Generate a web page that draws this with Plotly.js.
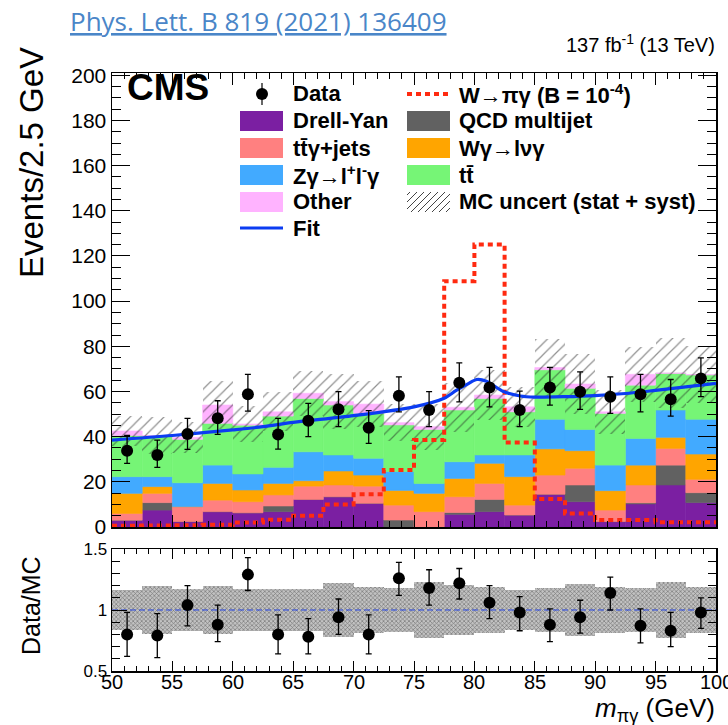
<!DOCTYPE html>
<html>
<head>
<meta charset="utf-8">
<script src="https://cdn.plot.ly/plotly-3.0.1.min.js"></script>
<style>html,body{margin:0;padding:0;background:#fff;}#chart{width:728px;height:725px;}</style>
</head>
<body>
<div id="chart"></div>
<script>
// ---------- data ----------
const binLow = [50,52.5,55,57.5,60,62.5,65,67.5,70,72.5,75,77.5,80,82.5,85,87.5,90,92.5,95,97.5];
const binWidth = 2.5;

const dyVals    = [3.0,7.5,2.4,6.8,6.3,6.8,12.2,13.4,10.5,0,0,5.6,6.8,5.3,14.5,11.2,2.4,10.2,18.6,10.8];
const qcdVals   = [0,3.3,0,0,0,2.5,0,0,0,3.1,0,0.8,5.4,0,0,7.4,0,0.5,8.8,4.4];
const ttgVals   = [3.0,4.1,6.6,5.1,4.9,4.9,5.9,5.2,7.6,6.6,6.8,7.0,7.1,4.4,8.5,7.4,5.1,7.9,7.4,5.9];
const wgVals    = [8.9,3.0,0,7.4,5.2,5.1,2.4,6.2,4.9,6.5,8.1,8.1,8.9,12.6,11.6,7.8,8.6,8.8,4.9,11.2];
const zgVals    = [7.4,4.4,10.6,8.1,7.1,7.1,12.8,7.1,7.4,8.4,4.4,7.4,3.7,9.6,13.1,9.4,11.3,11.8,12.1,15.4];
const ttVals    = [18.2,18.0,19.2,18.5,21.6,22.7,23.6,22.1,19.9,20.6,23.9,22.9,25.0,19.1,21.9,18.2,22.9,23.6,16.2,19.6];
const otherVals = [2.0,0.2,0.9,8.1,0.5,1.9,2.3,1.5,4.1,1.0,1.2,1.2,1.5,2.2,1.0,1.9,0.7,4.8,0.2,0.2];

const mcUncRel  = [0.16,0.20,0.17,0.20,0.17,0.17,0.17,0.22,0.185,0.18,0.23,0.205,0.19,0.165,0.18,0.21,0.19,0.18,0.23,0.185];

const dataVals  = [33.8,31.9,41.2,48.1,58.8,41.0,47.0,52.1,43.9,58.1,51.8,63.9,61.8,51.8,61.8,59.9,57.7,58.8,56.6,65.8];
const dataErrUp = [6.7,6.6,6.9,7.8,8.8,7.1,7.7,7.8,7.6,8.4,8.1,8.8,8.9,8.4,8.9,8.8,8.8,8.8,8.7,9.1];
const dataErrDn = [5.6,5.5,6.8,7.1,7.5,6.5,7.0,7.7,6.9,7.1,7.4,8.5,8.6,7.4,7.8,7.8,7.4,7.8,7.5,8.1];

const signalVals = [0.6,0.7,0.8,1.0,2.0,3.2,5.0,10.0,14.5,25.2,38.5,108.8,125.1,37.4,12.4,6.0,3.1,3.1,2.1,2.1];

const fitX = [50,55,60,62.5,65,70,75,77.5,78.5,79.5,80.2,81,82.4,83.8,85,87.5,90,92.5,95,97.5,100];
const fitY = [38.5,40.5,43,44.4,46.3,49.3,53.2,57,60.5,63.5,65.3,64.5,60,58,57.5,57.7,58.2,59.1,60.5,62,63.6];

const ratioVals  = [0.80,0.79,1.04,0.88,1.29,0.80,0.78,0.94,0.80,1.26,1.18,1.22,1.06,0.98,0.88,0.94,1.14,0.87,0.83,0.98];
const ratioErrUp = [0.18,0.18,0.16,0.16,0.14,0.16,0.15,0.15,0.16,0.13,0.15,0.12,0.14,0.13,0.13,0.14,0.13,0.14,0.15,0.12];
const ratioErrDn = [0.18,0.18,0.17,0.14,0.13,0.16,0.14,0.14,0.16,0.14,0.14,0.13,0.13,0.15,0.14,0.13,0.14,0.14,0.13,0.13];

const xTickVals = [50,55,60,65,70,75,80,85,90,95,100];
const xTickText = ['50','55','60','65','70','75','80','85','90','95','100'];

// ---------- styling ----------
const FONT = 'Liberation Sans, Arial, Helvetica, sans-serif';
const colors = {
  dy:'#7b1fa2', qcd:'#616161', ttg:'#ff8080', wg:'#ffa500', zg:'#42aaff', tt:'#76f576', other:'#ffb3ff',
  fit:'#0b3cf2', signal:'#ff2a10'
};

const centers = binLow.map(v => v + binWidth/2);
const components = [
  {vals:dyVals, color:colors.dy},
  {vals:qcdVals, color:colors.qcd},
  {vals:ttgVals, color:colors.ttg},
  {vals:wgVals, color:colors.wg},
  {vals:zgVals, color:colors.zg},
  {vals:ttVals, color:colors.tt},
  {vals:otherVals, color:colors.other}
];

const traces = [];
let cum = binLow.map(() => 0);
components.forEach(c => {
  traces.push({
    type:'bar', x:centers, y:c.vals, base:cum.slice(), width:binWidth,
    marker:{color:c.color, line:{width:0.6, color:c.color}},
    xaxis:'x', yaxis:'y', showlegend:false, hoverinfo:'skip'
  });
  cum = cum.map((v,i) => v + c.vals[i]);
});
const total = cum;
const uncAbs = total.map((t,i) => t*mcUncRel[i]);

// MC uncertainty hatch
traces.push({
  type:'bar', x:centers, y:uncAbs.map(u => 2*u), base:total.map((t,i) => t-uncAbs[i]), width:binWidth,
  marker:{color:'rgba(0,0,0,0)', line:{width:0},
          pattern:{shape:'/', fgcolor:'#222222', bgcolor:'rgba(0,0,0,0)', size:8, solidity:0.15, fillmode:'overlay'}},
  xaxis:'x', yaxis:'y', showlegend:false, hoverinfo:'skip'
});

// signal step histogram
traces.push({
  type:'scatter', mode:'lines', x:binLow.concat([100]), y:signalVals.concat([signalVals[signalVals.length-1]]),
  line:{shape:'hv', color:colors.signal, width:4, dash:'5px,4px'},
  xaxis:'x', yaxis:'y', showlegend:false, hoverinfo:'skip'
});

// fit
traces.push({
  type:'scatter', mode:'lines', x:fitX, y:fitY,
  line:{shape:'spline', smoothing:0.8, color:colors.fit, width:3.2},
  xaxis:'x', yaxis:'y', showlegend:false, hoverinfo:'skip'
});

// data
traces.push({
  type:'scatter', mode:'markers', x:centers, y:dataVals,
  marker:{color:'#000', size:12},
  error_y:{type:'data', symmetric:false, array:dataErrUp, arrayminus:dataErrDn, color:'#000', thickness:1.3, width:3},
  xaxis:'x', yaxis:'y', showlegend:false, hoverinfo:'skip'
});

// ratio band
traces.push({
  type:'bar', x:centers, y:mcUncRel.map(r => 2*r), base:mcUncRel.map(r => 1-r), width:binWidth,
  marker:{color:'#b4b4b4', line:{width:0},
          pattern:{shape:'x', fgcolor:'#777777', bgcolor:'#c2c2c2', size:3, solidity:0.4, fillmode:'replace'}},
  xaxis:'x2', yaxis:'y2', showlegend:false, hoverinfo:'skip'
});
// unity line
traces.push({
  type:'scatter', mode:'lines', x:[50,100], y:[1,1],
  line:{color:'#2040e0', width:1.2, dash:'6px,3px'},
  xaxis:'x2', yaxis:'y2', showlegend:false, hoverinfo:'skip'
});
// ratio points
traces.push({
  type:'scatter', mode:'markers', x:centers, y:ratioVals,
  marker:{color:'#000', size:12},
  error_y:{type:'data', symmetric:false, array:ratioErrUp, arrayminus:ratioErrDn, color:'#000', thickness:1.3, width:3},
  xaxis:'x2', yaxis:'y2', showlegend:false, hoverinfo:'skip'
});

// ---------- layout helpers (pixel -> paper) ----------
const W = 728, H = 725, mL = 112, mR = 12, mT = 73, mB = 54;
const pw = W - mL - mR, ph = H - mT - mB;
const PX = p => (p - mL) / pw;
const PY = p => (H - mB - p) / ph;

const annotations = [];
const shapes = [];
function ann(text, x, y, opts) {
  annotations.push(Object.assign({
    text:text, x:PX(x), y:PY(y), xref:'paper', yref:'paper', showarrow:false,
    xanchor:'left', yanchor:'middle', font:{family:FONT, size:22, color:'#000'}
  }, opts || {}));
}

ann('<u>Phys. Lett. B 819 (2021) 136409</u>', 68, 21, {font:{family:'Open Sans, Noto Sans, sans-serif', size:26, color:'#4a86c8'}});
ann('137 fb<sup>-1</sup> (13 TeV)', 717, 44, {xanchor:'right', font:{family:FONT, size:20, color:'#000'}});
ann('<b>CMS</b>', 125, 88, {font:{family:FONT, size:37, color:'#000'}});
ann('Events/2.5 GeV', 31, 163, {xanchor:'center', textangle:-90, font:{family:FONT, size:33, color:'#000'}});
ann('Data/MC', 31, 606, {xanchor:'center', textangle:-90, font:{family:FONT, size:25, color:'#000'}});
ann('<i>m</i><sub>πγ</sub> (GeV)', 717, 709, {xanchor:'right', font:{family:FONT, size:26, color:'#000'}});

// x tick labels of the ratio panel, placed on the x2 data scale
xTickVals.forEach((v, i) => {
  annotations.push({text:xTickText[i], x:v, xref:'x2', y:PY(682), yref:'paper', showarrow:false,
    xanchor:'center', yanchor:'middle', font:{family:FONT, size:20, color:'#000'}});
});

// legend
const rows = [94, 121, 148, 175, 202, 228];
const c1s = 240, c1e = 283, c1t = 291;
const c2s = 407, c2e = 450, c2t = 457;
function swatch(x0, x1, yc, color) {
  shapes.push({type:'rect', xref:'paper', yref:'paper', x0:PX(x0), x1:PX(x1), y0:PY(yc+10), y1:PY(yc-10),
               fillcolor:color, line:{width:0}});
}
// Data marker
shapes.push({type:'line', xref:'paper', yref:'paper', x0:PX(262), x1:PX(262), y0:PY(rows[0]+11), y1:PY(rows[0]-11), line:{color:'#000', width:1.2}});
shapes.push({type:'circle', xref:'paper', yref:'paper', x0:PX(256), x1:PX(268), y0:PY(rows[0]+6), y1:PY(rows[0]-6), fillcolor:'#000', line:{width:0}});
ann('<b>Data</b>', c1t, rows[0]);
swatch(c1s, c1e, rows[1], colors.dy);    ann('<b>Drell-Yan</b>', c1t, rows[1]);
swatch(c1s, c1e, rows[2], colors.ttg);   ann('<b>tt\u0304γ+jets</b>', c1t, rows[2]);
swatch(c1s, c1e, rows[3], colors.zg);    ann('<b>Zγ→l<sup>+</sup>l<sup>-</sup>γ</b>', c1t, rows[3]);
swatch(c1s, c1e, rows[4], colors.other); ann('<b>Other</b>', c1t, rows[4]);
shapes.push({type:'line', xref:'paper', yref:'paper', x0:PX(c1s), x1:PX(c1e), y0:PY(rows[5]), y1:PY(rows[5]), line:{color:colors.fit, width:3}});
ann('<b>Fit</b>', c1t, rows[5]);

shapes.push({type:'line', xref:'paper', yref:'paper', x0:PX(c2s), x1:PX(c2e), y0:PY(rows[0]), y1:PY(rows[0]), line:{color:colors.signal, width:4, dash:'5px,4px'}});
ann('<b>W→πγ (B = 10<sup>-4</sup>)</b>', c2t, rows[0]);
swatch(c2s, c2e, rows[1], colors.qcd);   ann('<b>QCD multijet</b>', c2t, rows[1]);
swatch(c2s, c2e, rows[2], colors.wg);    ann('<b>Wγ→lνγ</b>', c2t, rows[2]);
swatch(c2s, c2e, rows[3], colors.tt);    ann('<b>tt\u0304</b>', c2t, rows[3]);
// hatch swatch
(function(){
  const x0 = c2s, x1 = c2e, yT = rows[4]-10, yB = rows[4]+10, h = yB - yT;
  for (let s = x0 - h + 3; s < x1; s += 7) {
    let ax = s, ay = yB, bx = s + h, by = yT;
    if (ax < x0) { ay = yB - (x0 - ax); ax = x0; }
    if (bx > x1) { by = yT + (bx - x1); bx = x1; }
    if (bx <= ax) continue;
    shapes.push({type:'line', xref:'paper', yref:'paper', x0:PX(ax), y0:PY(ay), x1:PX(bx), y1:PY(by), line:{color:'#444', width:1}});
  }
})();
ann('<b>MC uncert (stat + syst)</b>', c2t, rows[4]);

const mainBottom = PY(527), ratioTop = PY(549);

const axCommon = {showline:true, linecolor:'#000', linewidth:1.5, mirror:'ticks', ticks:'inside', tickcolor:'#000',
                  showgrid:false, zeroline:false, tickfont:{family:FONT, size:21, color:'#000'}};

const layout = {
  width:W, height:H, margin:{l:mL, r:mR, t:mT, b:mB},
  paper_bgcolor:'#fff', plot_bgcolor:'#fff',
  barmode:'overlay', bargap:0, showlegend:false,
  xaxis:Object.assign({}, axCommon, {domain:[0,1], range:[50,100], anchor:'y', showticklabels:false,
    tickmode:'array', tickvals:xTickVals, ticklen:12, tickwidth:1,
    minor:{dtick:1, tick0:50, ticklen:6, ticks:'inside', tickcolor:'#000', tickwidth:1}}),
  yaxis:Object.assign({}, axCommon, {domain:[mainBottom,1], range:[0,201], anchor:'x', dtick:20, tick0:0,
    ticklen:18, tickwidth:1, minor:{dtick:5, ticklen:9, ticks:'inside', tickcolor:'#000', tickwidth:1}}),
  xaxis2:Object.assign({}, axCommon, {domain:[0,1], range:[50,100], anchor:'y2', showticklabels:false,
    tickmode:'array', tickvals:xTickVals, ticklen:10, tickwidth:1,
    minor:{dtick:1, tick0:50, ticklen:5, ticks:'inside', tickcolor:'#000', tickwidth:1}}),
  yaxis2:Object.assign({}, axCommon, {domain:[0,ratioTop], range:[0.5,1.5], anchor:'x2',
    tickmode:'array', tickvals:[0.5,1,1.5], ticktext:['0.5','1','1.5'], ticklen:15, tickwidth:1,
    tickfont:{family:FONT, size:17, color:'#000'},
    minor:{dtick:0.1, tick0:0.5, ticklen:8, ticks:'inside', tickcolor:'#000', tickwidth:1}}),
  annotations:annotations,
  shapes:shapes
};

Plotly.newPlot('chart', traces, layout, {staticPlot:true, displayModeBar:false});
</script>
</body>
</html>
